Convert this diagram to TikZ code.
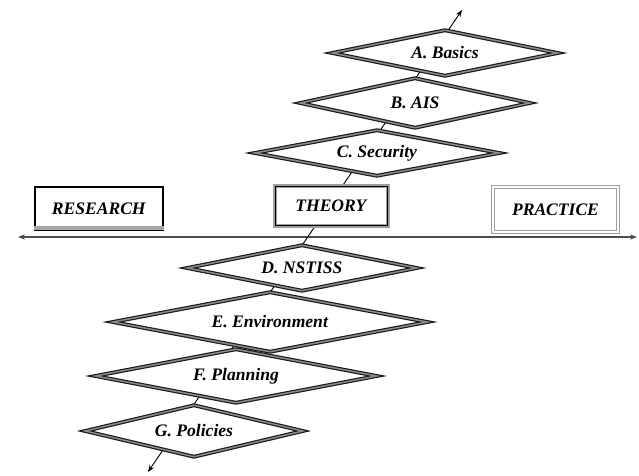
\documentclass[tikz,border=0pt]{standalone}
\usepackage{fontspec}
\setmainfont{Liberation Serif}
\usetikzlibrary{shapes.geometric,arrows.meta}
\newcommand{\lbl}[1]{\textbf{\textit{#1}}}

\begin{document}
\begin{tikzpicture}[x=0.03cm,y=-0.03cm,>={Stealth[length=6pt,width=4.5pt]},
  topic/.style={diamond,shape aspect=4.5,draw=black!90,double=black!45,double distance=1.3pt,line width=1pt,fill=white,inner sep=0pt,font=\fontsize{15}{17}\selectfont},
  field/.style={rectangle,fill=white,inner sep=0pt,font=\fontsize{15}{17}\selectfont}]
 \useasboundingbox (0,0) rectangle (639,476);
 % axis and chain (drawn first, nodes lie on top)
 \coordinate (lo) at (148,472);
 \coordinate (hi) at (462,10);
 \coordinate (west) at (18,237);
 \coordinate (east) at (637,237);
 \draw[<->,black!70,line width=1pt] (west) -- (east);
 \draw[<->,line width=0.8pt] (lo) -- (hi);
 % fields
 \node[field,draw=black,line width=1.8pt,minimum width=3.84cm,minimum height=1.29cm] (research) at (99,208.5) {\lbl{RESEARCH}};
 \draw[gray!70,line width=3.5pt] ([yshift=2.6pt]research.south west) -- ([yshift=2.6pt]research.south east);
 \node[field,draw=gray!75,line width=3pt,minimum width=3.39cm,minimum height=1.2cm] (theory) at (331.5,206) {\lbl{THEORY}};
 \draw[black,line width=0.7pt] ([shift={(1.8pt,1.8pt)}]theory.south west) rectangle ([shift={(-1.8pt,-1.8pt)}]theory.north east);
 \node[field,draw=gray!75,double,double distance=1.5pt,line width=1pt,minimum width=3.75cm,minimum height=1.35cm] (practice) at (555.5,209.5) {\lbl{PRACTICE}};
 % topics
 \node[topic,minimum width=6.78cm,minimum height=1.38cm] (basics) at (445,53) {\lbl{A. Basics}};
 \node[topic,minimum width=6.9cm,minimum height=1.5cm] (ais) at (415,103) {\lbl{B. AIS}};
 \node[topic,minimum width=7.35cm,minimum height=1.38cm] (security) at (377,153) {\lbl{C. Security}};
 \node[topic,minimum width=6.9cm,minimum height=1.38cm] (nstiss) at (302,268) {\lbl{D. NSTISS}};
 \node[topic,minimum width=9.45cm,minimum height=1.8cm] (environment) at (270,322) {\lbl{E. Environment}};
 \node[topic,minimum width=8.46cm,minimum height=1.62cm] (planning) at (236,376) {\lbl{F. Planning}};
 \node[topic,minimum width=6.54cm,minimum height=1.56cm] (policies) at (194,431) {\lbl{G. Policies}};
\end{tikzpicture}
\end{document}
